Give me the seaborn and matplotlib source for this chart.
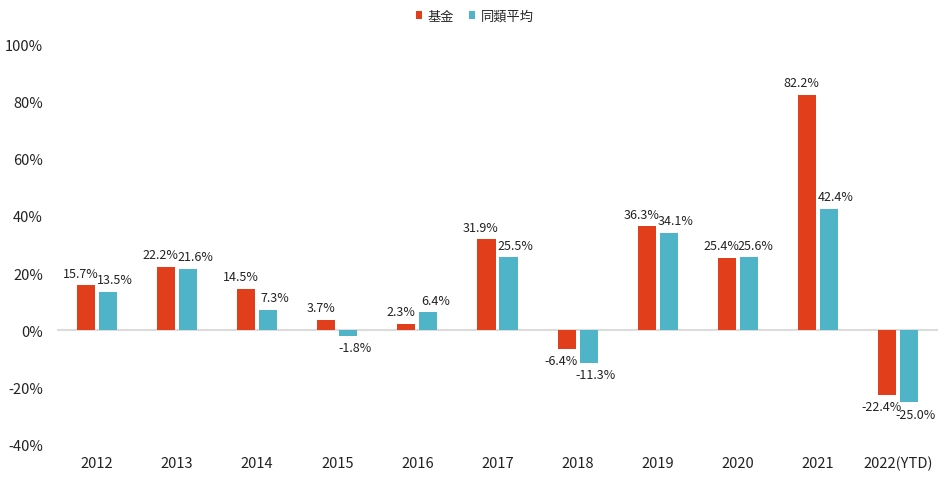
import matplotlib
matplotlib.use("Agg")
import matplotlib.pyplot as plt
import pandas as pd
import seaborn as sns

years = ["2012", "2013", "2014", "2015", "2016", "2017", "2018", "2019", "2020", "2021", "2022(YTD)"]
fund = [15.7, 22.2, 14.5, 3.7, 2.3, 31.9, -6.4, 36.3, 25.4, 82.2, -22.4]
peer = [13.5, 21.6, 7.3, -1.8, 6.4, 25.5, -11.3, 34.1, 25.6, 42.4, -25.0]
series = ["基金", "同類平均"]
colors = ["#E13F1C", "#4FB4C7"]
yticks = [-40, -20, 0, 20, 40, 60, 80, 100]

df = pd.DataFrame({"year": years * 2,
                   "value": fund + peer,
                   "series": [series[0]] * len(years) + [series[1]] * len(years)})

sns.set_style("white")
plt.rcParams["font.family"] = ["Noto Sans CJK TC", "DejaVu Sans"]

fig = plt.figure(figsize=(9.45, 4.81), dpi=100)
ax = fig.add_axes([0.0603, 0.0728, 0.9323, 0.8336])

sns.barplot(data=df, x="year", y="value", hue="series", palette=colors,
            width=0.55, gap=0.18, ax=ax, saturation=1, legend=True, linewidth=0)

# zero line
ax.axhline(0, color="#DCDCDC", lw=1.5, zorder=0)

# labels nudged apart a little like the original
nudge = [-4, 5]
for i, cont in enumerate(ax.containers):
    texts = ax.bar_label(cont, labels=[f"{v:.1f}%" for v in cont.datavalues],
                         padding=4, fontsize=9, color="#222222")
    for t in texts:
        x0, y0 = t.xyann
        t.xyann = (x0 + nudge[i], y0)

ax.set_ylim(-40, 100)
ax.set_xlim(-0.5, 10.5)
ax.set_yticks(yticks)
ax.set_yticklabels([f"{t}%" for t in yticks])
ax.tick_params(axis="both", length=0, labelsize=10.5, colors="#222222")
ax.tick_params(axis="y", pad=10)
ax.tick_params(axis="x", pad=8)
ax.set_xlabel("")
ax.set_ylabel("")
sns.despine(ax=ax, left=True, bottom=True)

handles, labels = ax.get_legend_handles_labels()
ax.legend(handles, labels, loc="center", bbox_to_anchor=(0.474, 1.07),
          ncol=2, frameon=False, fontsize=9.5, handlelength=0.5, handleheight=0.5,
          handletextpad=0.4, columnspacing=1.1)

fig.savefig("out.png", dpi=100)
